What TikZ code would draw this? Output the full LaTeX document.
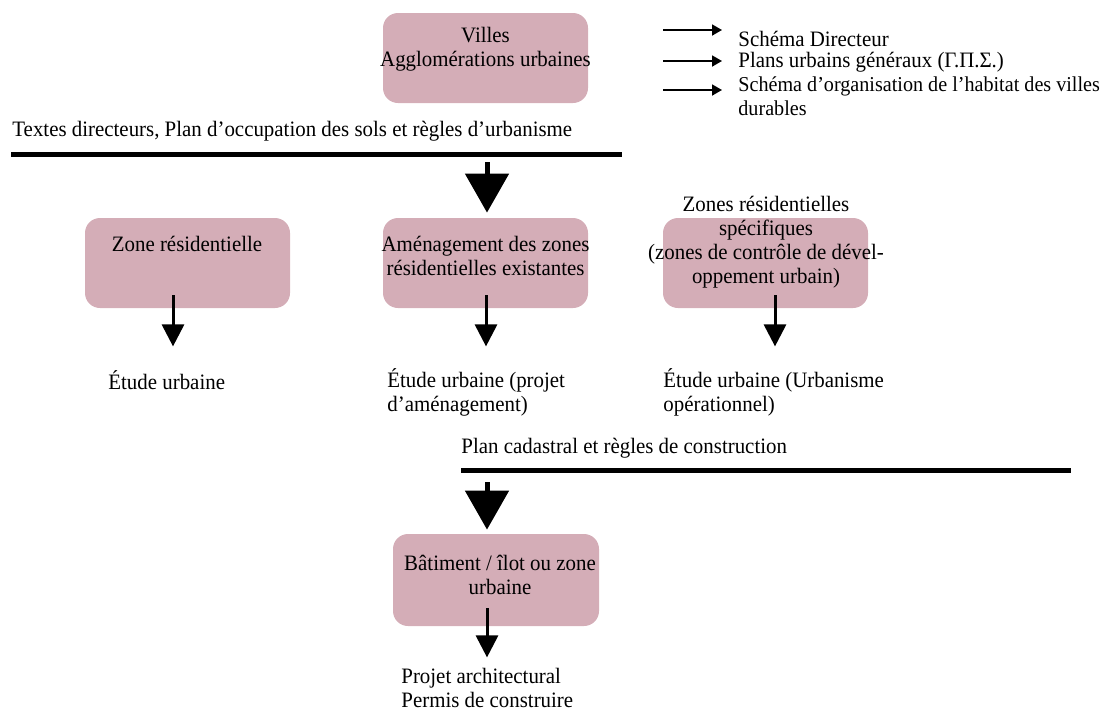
\documentclass[tikz,border=0pt]{standalone}
\usepackage{fontspec}
\setmainfont[FakeStretch=0.95]{Liberation Serif}
\usetikzlibrary{arrows.meta}
\definecolor{zonefill}{RGB}{212,173,183}
\begin{document}
\begin{tikzpicture}[x=0.5pt, y=-0.5pt, line join=round, font=\fontsize{11}{12}\selectfont]
	\tikzset{zone/.style={fill=zonefill, rounded corners=7.5pt, minimum width=102.5pt, minimum height=45pt, inner sep=0pt},
		txt/.style={inner sep=0pt, align=center},
		ltxt/.style={inner sep=0pt, align=left, anchor=west},
		legarrow/.style={-{Triangle[length=5pt,width=5.5pt]}, line width=0.9pt},
		smallarrow/.style={-{Triangle[length=11pt,width=11pt]}, line width=1.5pt},
		bigarrow/.style={-{Triangle[length=19.5pt,width=21.5pt]}, line width=2.5pt},
		rule/.style={line width=2.5pt}}
	\useasboundingbox (0,0) rectangle (1101,713);
	% boxes
	\node[zone] (villes) at (485.5,58) {};
	\node[zone] (res) at (187.5,263) {};
	\node[zone] (exist) at (485.5,263) {};
	\node[zone] (spec) at (765.5,263) {};
	\node[zone, minimum width=103pt, minimum height=46pt] (bat) at (496,580) {};
	% texts of the boxes
	\node[txt] (villesT) at (485.5,49) {Villes\\Agglomérations urbaines};
	\node[txt] (resT) at (187,244) {Zone résidentielle};
	\node[txt] (existT) at (485.5,256) {Aménagement des zones\\résidentielles existantes};
	\node[txt] (specT) at (766,242) {Zones résidentielles\\spécifiques\\(zones de contrôle de dével-\\oppement urbain)};
	\node[txt] (batT) at (500,575) {Bâtiment / îlot ou zone\\urbaine};
	% legend
	\node[ltxt] (leg1) at (738,39) {Schéma Directeur};
	\node[ltxt] (leg2) at (738,62) {Plans urbains généraux (Γ.Π.Σ.)};
	\node[ltxt, font=\fontsize{10.6}{12}\selectfont] (leg3) at (738,96.5) {Schéma d’organisation de l’habitat des villes\\durables};
	\path (663,30) coordinate (l1a) (722,30) coordinate (l1b)
	(663,61) coordinate (l2a) (722,61) coordinate (l2b)
	(663,90) coordinate (l3a) (722,90) coordinate (l3b);
	\foreach \a/\b in {l1a/l1b,l2a/l2b,l3a/l3b}
	\draw[legarrow] (\a) -- (\b);
	% rules
	\node[ltxt] (regles) at (12,131) {Textes directeurs, Plan d’occupation des sols et règles d’urbanisme};
	\path (11,154) coordinate (r1a) (622,154) coordinate (r1b)
	(461,470) coordinate (r2a) (1071,470) coordinate (r2b)
	(487,162) coordinate (big1) (487,482) coordinate (big2);
	\draw[rule] (r1a) -- (r1b);
	\node[ltxt] (cadastre) at (461,448) {Plan cadastral et règles de construction};
	\draw[rule] (r2a) -- (r2b);
	\draw[bigarrow] (big1) -- ([yshift=2.5pt]exist.north -| big1);
	\draw[bigarrow] (big2) -- ([yshift=2pt]bat.north -| big2);
	% studies
	\node[ltxt] (etude1) at (108,380) {Étude urbaine};
	\node[ltxt] (etude2) at (387,392) {Étude urbaine (projet\\d’aménagement)};
	\node[ltxt] (etude3) at (663,392) {Étude urbaine (Urbanisme\\opérationnel)};
	\node[ltxt] (projet) at (401,688) {Projet architectural\\Permis de construire};
	\foreach \n/\x in {res/173,exist/486,spec/775}
	\draw[smallarrow] ([yshift=6.5pt]\n.south -| \x,0) -- ([yshift=-19pt]\n.south -| \x,0);
	\draw[smallarrow] ([yshift=9pt]bat.south -| 487,0) -- ([yshift=-15.5pt]bat.south -| 487,0);
\end{tikzpicture}
\end{document}
